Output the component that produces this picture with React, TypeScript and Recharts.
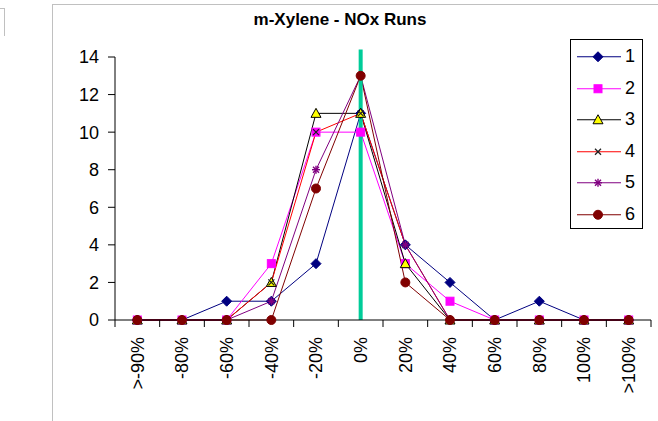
import React from 'react';
import { LineChart, Line, XAxis, YAxis, Legend, ReferenceLine } from 'recharts';

// bins of the % deviation, and counts for each run
const categories = ['>-90%', '-80%', '-60%', '-40%', '-20%', '0%', '20%', '40%', '60%', '80%', '100%', '>100%'];
const run1 = [0, 0, 1, 1, 3, 11, 4, 2, 0, 1, 0, 0];
const run2 = [0, 0, 0, 3, 10, 10, 3, 1, 0, 0, 0, 0];
const run3 = [0, 0, 0, 2, 11, 11, 3, 0, 0, 0, 0, 0];
const run4 = [0, 0, 0, 2, 10, 11, 4, 0, 0, 0, 0, 0];
const run5 = [0, 0, 0, 1, 8, 13, 4, 0, 0, 0, 0, 0];
const run6 = [0, 0, 0, 0, 7, 13, 2, 0, 0, 0, 0, 0];
const yTicks = [0, 2, 4, 6, 8, 10, 12, 14];

const W = 658;
const H = 421;
const MARGIN = { top: 57, right: 7, bottom: 0, left: 0 };
const Y_AXIS_W = 115;
const X_AXIS_H = 101;
const BAND = (W - MARGIN.left - MARGIN.right - Y_AXIS_W) / categories.length;

type Shape = 'diamond' | 'square' | 'triangle' | 'cross' | 'star' | 'circle';

const series: { key: string; name: string; color: string; shape: Shape; values: number[] }[] = [
  { key: 'r1', name: '1', color: '#000080', shape: 'diamond', values: run1 },
  { key: 'r2', name: '2', color: '#ff00ff', shape: 'square', values: run2 },
  { key: 'r3', name: '3', color: '#000000', shape: 'triangle', values: run3 },
  { key: 'r4', name: '4', color: '#ff0000', shape: 'cross', values: run4 },
  { key: 'r5', name: '5', color: '#800080', shape: 'star', values: run5 },
  { key: 'r6', name: '6', color: '#800000', shape: 'circle', values: run6 },
];

const data = categories.map((c, i) => {
  const row: Record<string, string | number> = { cat: c };
  series.forEach((s) => {
    row[s.key] = s.values[i];
  });
  return row;
});

const Marker = ({ shape, color, cx, cy }: { shape: Shape; color: string; cx: number; cy: number }) => {
  switch (shape) {
    case 'diamond':
      return <polygon points={`${cx},${cy - 5} ${cx + 5},${cy} ${cx},${cy + 5} ${cx - 5},${cy}`} fill={color} stroke={color} />;
    case 'square':
      return <rect x={cx - 4} y={cy - 4} width={8} height={8} fill={color} stroke={color} />;
    case 'triangle':
      return <polygon points={`${cx},${cy - 5} ${cx + 5},${cy + 4} ${cx - 5},${cy + 4}`} fill="#ffff00" stroke="#000" />;
    case 'cross':
      return (
        <g stroke="#202020" strokeWidth={1.2}>
          <line x1={cx - 3} y1={cy - 3} x2={cx + 3} y2={cy + 3} />
          <line x1={cx - 3} y1={cy + 3} x2={cx + 3} y2={cy - 3} />
        </g>
      );
    case 'star':
      return (
        <g stroke={color} strokeWidth={1.4}>
          <line x1={cx} y1={cy - 4} x2={cx} y2={cy + 4} />
          <line x1={cx - 4} y1={cy} x2={cx + 4} y2={cy} />
          <line x1={cx - 3} y1={cy - 3} x2={cx + 3} y2={cy + 3} />
          <line x1={cx - 3} y1={cy + 3} x2={cx + 3} y2={cy - 3} />
        </g>
      );
    default:
      return <circle cx={cx} cy={cy} r={4.5} fill={color} stroke={color} />;
  }
};

const XTick = (props: any) => {
  const { x, y, payload, index } = props;
  const left = x - BAND / 2;
  return (
    <g>
      <line x1={left} y1={y} x2={left} y2={y + 7} stroke="#000" />
      {index === categories.length - 1 && (
        <line x1={x + BAND / 2} y1={y} x2={x + BAND / 2} y2={y + 7} stroke="#000" />
      )}
      <text
        x={x}
        y={y + 17}
        transform={`rotate(-90, ${x}, ${y + 17})`}
        textAnchor="end"
        dy="0.35em"
        fontSize={18}
        fill="#000"
      >
        {payload.value}
      </text>
    </g>
  );
};

const LegendBox = () => (
  <div
    style={{
      border: '1px solid #000',
      width: 73,
      height: 190,
      boxSizing: 'border-box',
      background: '#fff',
      paddingTop: 1,
    }}
  >
    {series.map((s) => (
      <div key={s.key} style={{ height: 31.5, position: 'relative' }}>
        <svg width={52} height={31.5} style={{ position: 'absolute', left: 0, top: 0 }}>
          <line x1={6} y1={15.75} x2={50} y2={15.75} stroke={s.color} strokeWidth={1.2} />
          <Marker shape={s.shape} color={s.color} cx={27} cy={15.75} />
        </svg>
        <span style={{ position: 'absolute', left: 54, top: 5, fontSize: 18, lineHeight: '20px' }}>{s.name}</span>
      </div>
    ))}
  </div>
);

export default function App() {
  return (
    <div
      style={{
        position: 'absolute',
        left: 0,
        top: 0,
        width: W,
        height: H,
        background: '#fff',
        fontFamily: 'Arial, "Liberation Sans", sans-serif',
        overflow: 'hidden',
      }}
    >
      {/* spreadsheet frame bits */}
      <div style={{ position: 'absolute', left: 52, top: 4, width: W - 52, height: H, borderLeft: '1px solid #c0c0c0', borderTop: '1px solid #c0c0c0' }} />
      <div style={{ position: 'absolute', left: -1, top: 8, width: 5, height: 27, borderRight: '1px solid #c0c0c0', borderTop: '1px solid #c0c0c0' }} />
      <div
        style={{
          position: 'absolute',
          left: 240,
          top: 11,
          width: 200,
          textAlign: 'center',
          fontSize: 17,
          lineHeight: '17px',
          fontWeight: 'bold',
        }}
      >
        m-Xylene - NOx Runs
      </div>
      <LineChart width={W} height={H} data={data} margin={MARGIN}>
        <XAxis
          dataKey="cat"
          scale="band"
          height={X_AXIS_H}
          interval={0}
          tickLine={false}
          tickSize={0}
          tickMargin={0}
          axisLine={{ stroke: '#000' }}
          tick={<XTick />}
        />
        <YAxis
          width={Y_AXIS_W}
          domain={[0, 14]}
          ticks={yTicks}
          interval={0}
          tickSize={7}
          tickMargin={9}
          axisLine={{ stroke: '#000' }}
          tickLine={{ stroke: '#000' }}
          tick={{ fill: '#000', fontSize: 18 }}
        />
        {series.map((s) => (
          <Line
            key={s.key}
            dataKey={s.key}
            name={s.name}
            type="linear"
            stroke={s.color}
            strokeWidth={1}
            isAnimationActive={false}
            dot={(p: any) => <Marker key={`${s.key}-${p.index}`} shape={s.shape} color={s.color} cx={p.cx} cy={p.cy} />}
            activeDot={false}
          />
        ))}
        <ReferenceLine
          segment={[
            { x: '0%', y: 0 },
            { x: '0%', y: 14.4 },
          ]}
          ifOverflow="visible"
          stroke="#00cc99"
          strokeWidth={4}
        />
        <Legend
          layout="vertical"
          align="center"
          verticalAlign="middle"
          content={<LegendBox />}
          wrapperStyle={{ left: 570, top: 39, width: 73, height: 190 }}
        />
      </LineChart>
    </div>
  );
}
